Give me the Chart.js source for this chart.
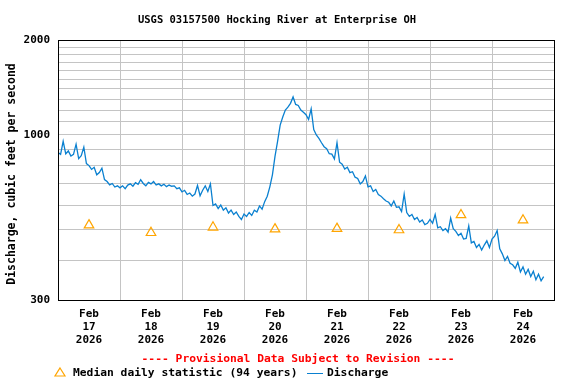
<!DOCTYPE html>
<html>
<head>
<meta charset="utf-8">
<title>USGS 03157500 Hocking River at Enterprise OH</title>
<script src="https://cdn.jsdelivr.net/npm/chart.js@4.4.1/dist/chart.umd.min.js"></script>
<style>
    html, body { margin: 0; padding: 0; background: #fff; }
    #wrap { width: 576px; height: 384px; }
</style>
</head>
<body>
<div id="wrap"><canvas id="flow-chart" width="576" height="384"></canvas></div>
<script>
// Hourly discharge (cfs), Feb 17 00:00 -> Feb 24 ~20:00
const dischargeCfs = [
    880, 868, 955, 872, 890, 858, 868, 935, 842, 860, 915, 812, 800, 778, 790, 748, 760, 785, 722, 712, 695, 702, 684, 690,
    680, 690, 676, 694, 700, 688, 706, 698, 722, 702, 690, 708, 700, 712, 694, 700, 690, 698, 686, 694, 688, 690, 676, 680,
    660, 668, 648, 655, 640, 650, 692, 642, 668, 690, 662, 700, 598, 605, 585, 600, 578, 588, 566, 578, 560, 570, 552, 540,
    562, 552, 568, 556, 578, 570, 596, 582, 615, 640, 685, 748, 855, 955, 1075, 1140, 1200, 1225, 1260, 1320, 1250, 1240, 1200, 1180,
    1160, 1120, 1210, 1040, 1000, 975, 945, 918, 905, 872, 870, 840, 945, 820, 808, 780, 790, 760, 765, 735, 728, 700, 712, 742,
    685, 690, 662, 672, 648, 640, 628, 618, 612, 596, 618, 590, 592, 572, 650, 568, 552, 560, 540, 548, 530, 538, 520, 525,
    540, 525, 560, 508, 512, 498, 505, 492, 545, 505, 495, 480, 488, 468, 470, 515, 455, 460, 440, 450, 432, 448, 462, 440,
    468, 478, 498, 436, 420, 400, 412, 392, 388, 378, 395, 368, 382, 362, 375, 356, 370, 348, 362, 345, 356
];

// Median daily statistic (94 years), one per day at noon
const medianCfs = [518, 490, 510, 503, 505, 500, 558, 537];

// Axis labels
const dayLabels = ['17', '18', '19', '20', '21', '22', '23', '24'];
const monthLabel = 'Feb';
const yearLabel = '2026';
const yGridValues = [300, 400, 500, 600, 700, 800, 900, 1000, 1100, 1200, 1300, 1400, 1500, 1600, 1700, 1800, 1900, 2000];
const yLabelValues = [300, 1000, 2000];

const FONT = '"DejaVu Sans Mono", "Liberation Mono", monospace';
const BLUE = '#0a80d0';
const ORANGE = '#ffa500';
const GRID = '#c4c4c4';

// Build the point lists for the chart
const dischargePoints = dischargeCfs.map((v, i) => ({ x: i, y: v }));
const medianPoints = medianCfs.map((v, i) => ({ x: 12 + i * 24, y: v }));

// Frame, title, axis title and the notes under the plot
const frameAndNotes = {
    id: 'frameAndNotes',
    afterDraw(chart) {
        const ctx = chart.ctx;
        const a = chart.chartArea;
        ctx.save();

        ctx.strokeStyle = '#000';
        ctx.lineWidth = 1;
        ctx.strokeRect(Math.round(a.left) + 0.5, Math.round(a.top) + 0.5,
            Math.round(a.right - a.left), Math.round(a.bottom - a.top));

        ctx.fillStyle = '#000';
        ctx.textBaseline = 'middle';
        ctx.textAlign = 'center';
        ctx.font = 'bold 10.5px ' + FONT;
        ctx.fillText('USGS 03157500 Hocking River at Enterprise OH', 277, 20);

        // y axis title
        ctx.save();
        ctx.translate(12, 174);
        ctx.rotate(-Math.PI / 2);
        ctx.font = 'bold 11.5px ' + FONT;
        ctx.fillText('Discharge, cubic feet per second', 0, 0);
        ctx.restore();

        ctx.font = 'bold 11.3px ' + FONT;
        ctx.fillStyle = '#ff0000';
        ctx.fillText('---- Provisional Data Subject to Revision ----', 298, 359);

        // legend row
        const ly = 373;
        ctx.strokeStyle = ORANGE;
        ctx.lineWidth = 1.2;
        ctx.beginPath();
        ctx.moveTo(60, ly - 5);
        ctx.lineTo(65, ly + 3);
        ctx.lineTo(55, ly + 3);
        ctx.closePath();
        ctx.stroke();

        ctx.fillStyle = '#000';
        ctx.textAlign = 'left';
        ctx.fillText('Median daily statistic (94 years)', 73, ly);

        ctx.strokeStyle = BLUE;
        ctx.lineWidth = 1;
        ctx.beginPath();
        ctx.moveTo(307, ly + 0.5);
        ctx.lineTo(323, ly + 0.5);
        ctx.stroke();
        ctx.fillText('Discharge', 327, ly);

        ctx.restore();
    }
};

function initFlowChart() {
    const ctx = document.getElementById('flow-chart').getContext('2d');
    new Chart(ctx, {
        type: 'line',
        data: {
            datasets: [
                {
                    label: 'Median daily statistic (94 years)',
                    data: medianPoints,
                    showLine: false,
                    pointStyle: 'triangle',
                    pointRadius: 5.5,
                    pointBorderColor: ORANGE,
                    pointBackgroundColor: 'rgba(0,0,0,0)',
                    pointBorderWidth: 1.2
                },
                {
                    label: 'Discharge',
                    data: dischargePoints,
                    borderColor: BLUE,
                    borderWidth: 1.3,
                    pointRadius: 0,
                    tension: 0
                }
            ]
        },
        options: {
            responsive: false,
            animation: false,
            layout: { padding: { top: 40, left: 0, right: 22, bottom: 0 } },
            plugins: {
                legend: { display: false },
                title: { display: false },
                tooltip: { enabled: false }
            },
            scales: {
                x: {
                    type: 'linear',
                    min: 0,
                    max: 192,
                    afterBuildTicks: scale => {
                        const ticks = [];
                        for (let h = 0; h <= 192; h += 12) ticks.push({ value: h });
                        scale.ticks = ticks;
                    },
                    afterFit: scale => { scale.height = 84; },
                    border: { display: false },
                    grid: {
                        drawTicks: false,
                        color: c => (c.tick && c.tick.value % 24 === 0) ? GRID : 'rgba(0,0,0,0)'
                    },
                    ticks: {
                        autoSkip: false,
                        maxRotation: 0,
                        padding: 7.5,
                        color: '#000',
                        font: { family: FONT, size: 11, weight: 'bold', lineHeight: '13px' },
                        callback: value => {
                            if (value % 24 !== 12) return '';
                            return [monthLabel, dayLabels[(value - 12) / 24], yearLabel];
                        }
                    }
                },
                y: {
                    type: 'logarithmic',
                    min: 300,
                    max: 2000,
                    afterBuildTicks: scale => {
                        scale.ticks = yGridValues.map(v => ({ value: v }));
                    },
                    afterFit: scale => { scale.width = 58; },
                    border: { display: false },
                    grid: { drawTicks: false, color: GRID },
                    ticks: {
                        autoSkip: false,
                        padding: 8,
                        color: '#000',
                        font: { family: FONT, size: 11, weight: 'bold' },
                        callback: value => yLabelValues.includes(value) ? String(value) : ''
                    }
                }
            }
        },
        plugins: [frameAndNotes]
    });
}

document.addEventListener('DOMContentLoaded', initFlowChart);
</script>
</body>
</html>
